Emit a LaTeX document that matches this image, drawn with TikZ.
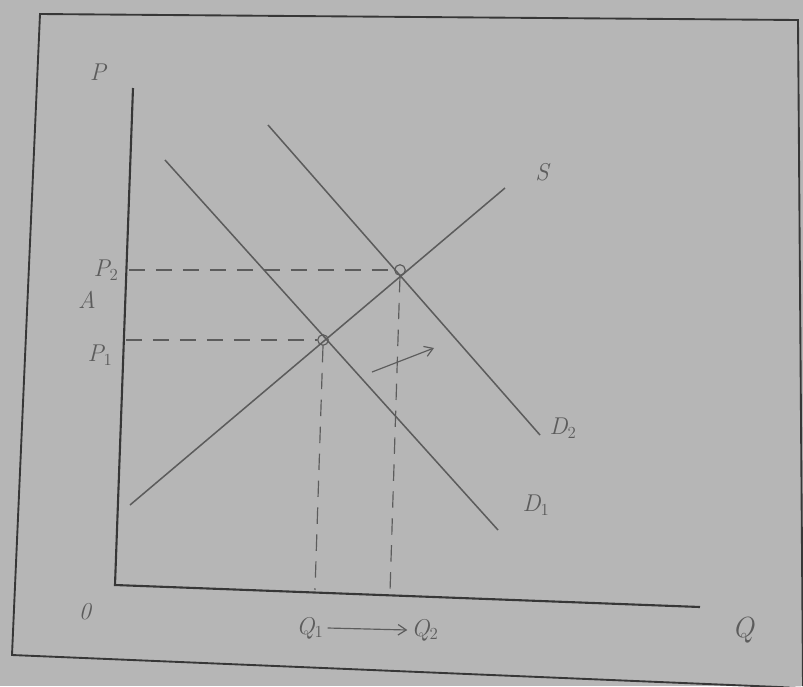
\documentclass[tikz,border=0pt]{standalone}
\usetikzlibrary{arrows.meta}
\definecolor{paper}{RGB}{182,182,182}
\definecolor{ink}{RGB}{55,55,55}
\definecolor{pencil}{RGB}{92,92,92}
\tikzset{
  frame/.style={draw=ink, line width=1.6pt},
  axis/.style={draw=ink, line width=1.8pt},
  curve/.style={draw=pencil, line width=1.3pt},
  guide/.style={draw=pencil, line width=1pt, dash pattern=on 14pt off 9pt},
  hand/.style={text=pencil, font=\huge\itshape},
  eq/.style={circle, draw=pencil, line width=1pt, inner sep=0pt, minimum size=9pt},
  movearrow/.style={draw=pencil, line width=1pt, -{Straight Barb[length=7pt,width=9pt]}}
}
\begin{document}
\begin{tikzpicture}[x=0.03cm, y=-0.03cm]
\path[fill=paper] (0,0) rectangle (803,686);
\useasboundingbox (0,0) rectangle (803,686);
% frame of the sheet
\coordinate (f1) at (40,14);
\coordinate (f2) at (798,20);
\coordinate (f3) at (803,688);
\coordinate (f4) at (12,655);
\coordinate (f5) at (803,686);
\draw[frame] (f5) -- (f2) -- (f1) -- (f4) -- (f3);
% axes
\coordinate (ytop) at (133,88);
\coordinate (orig) at (115,585);
\coordinate (xend) at (700,607);
\draw[axis] (ytop) -- (orig) -- (xend);
% curves
\coordinate (s0) at (130,505); \coordinate (s1) at (505,188);
\coordinate (a0) at (165,160); \coordinate (a1) at (498,530);
\coordinate (b0) at (268,125); \coordinate (b1) at (540,435);
\draw[curve] (s0) -- (s1);
\draw[curve] (a0) -- (a1);
\draw[curve] (b0) -- (b1);
% equilibria
\node[eq] (e1) at (323,340) {};
\node[eq] (e2) at (400,270) {};
% guides
\coordinate (p1y) at (126,340);
\coordinate (p2y) at (129,270);
\coordinate (q1x) at (315,590);
\coordinate (q2x) at (390,592);
\draw[guide] (p2y) -- (e2.west);
\draw[guide] (p1y) -- (e1.west);
\draw[guide] (e1.south) -- (q1x);
\draw[guide] (e2.south) -- (q2x);
% labels
\node[hand] (lp) at (98,72) {P};
\node[hand] (l0) at (85,612) {0};
\node[hand, font=\Huge\itshape] (lq) at (743,630) {Q};
\node[hand] (ls) at (542,172) {S};
\node[hand] (ld2) at (563,428) {D$_2$};
\node[hand] (ld1) at (536,505) {D$_1$};
\node[hand] (lp2) at (106,270) {P$_2$};
\node[hand] (lp1) at (100,355) {P$_1$};
\node[hand] (la) at (87,300) {A};
\node[hand] (lq1) at (310,628) {Q$_1$};
\node[hand] (lq2) at (425,630) {Q$_2$};
\draw[movearrow] (lq1.east) -- (lq2.west);
\coordinate (sh0) at (372,372);
\coordinate (sh1) at (434,348);
\draw[movearrow] (sh0) -- (sh1);
\end{tikzpicture}
\end{document}
